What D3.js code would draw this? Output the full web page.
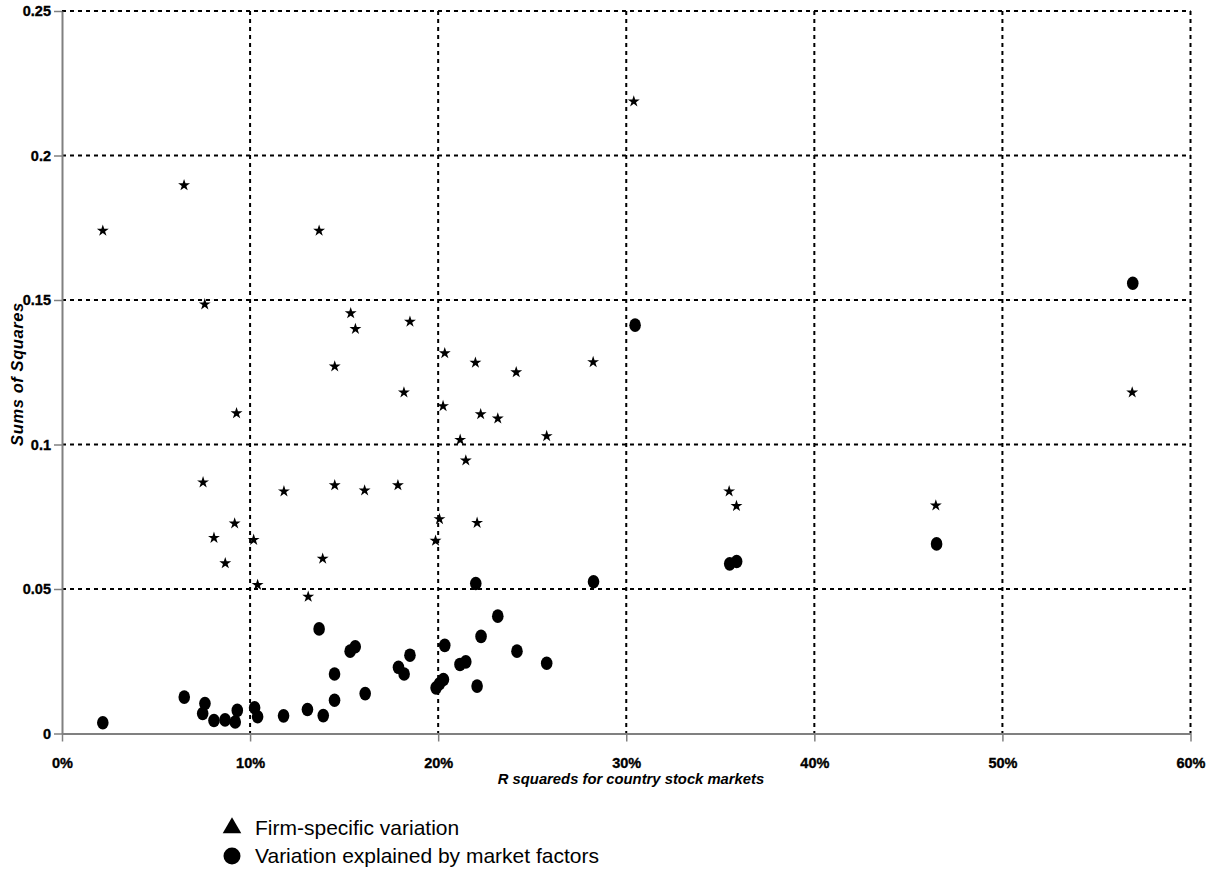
<!DOCTYPE html>
<html>
<head>
<meta charset="utf-8">
<script src="https://cdn.jsdelivr.net/npm/d3@7"></script>
<style>
  html, body { margin: 0; padding: 0; background: #fff; }
  svg { display: block; }
  .tick text { font-family: "Liberation Sans", Arial, sans-serif; font-weight: bold; font-size: 14.5px; fill: #000; stroke: #000; stroke-width: 0.35px; }
</style>
</head>
<body>
<svg id="chart" width="1211" height="875"></svg>
<script>
// ---- Data ----
const firmX = [0.0217,0.0649,0.1367,0.304,0.0759,0.1535,0.156,0.185,0.145,0.1818,
               0.2035,0.2198,0.2415,0.2824,0.0928,0.2026,0.2226,0.2317,0.2577,0.2117,
               0.2147,0.075,0.118,0.145,0.1609,0.1786,0.2007,0.2207,0.0918,0.0808,
               0.1019,0.1986,0.1386,0.0868,0.104,0.1309,0.3547,0.3586,0.4646,0.569];
const firmY = [0.174,0.1897,0.174,0.2187,0.1485,0.1454,0.140,0.1425,0.127,0.118,
               0.1316,0.1283,0.125,0.1285,0.1108,0.1133,0.1105,0.109,0.1029,0.1016,
               0.0945,0.0869,0.0838,0.0859,0.0841,0.0859,0.0742,0.0729,0.0727,0.0677,
               0.067,0.0667,0.0605,0.0589,0.0514,0.0473,0.0838,0.0787,0.0789,0.118];
const marketX = [0.0217,0.065,0.076,0.0748,0.0808,0.0867,0.0932,0.0921,0.1024,0.104,
                 0.1178,0.1305,0.1389,0.1449,0.1449,0.1612,0.1532,0.1559,0.1367,0.185,
                 0.1789,0.1819,0.2035,0.2228,0.2419,0.2577,0.2116,0.2147,0.2028,0.1989,
                 0.2007,0.2207,0.220,0.2826,0.2317,0.3047,0.355,0.3587,0.465,0.5693];
const marketY = [0.0037,0.0126,0.0104,0.0069,0.0045,0.0047,0.008,0.004,0.0089,0.0058,
                 0.0061,0.0083,0.0062,0.0115,0.0206,0.0138,0.0285,0.030,0.0362,0.0271,
                 0.0229,0.0206,0.0305,0.0336,0.0285,0.0243,0.0239,0.0248,0.0187,0.0158,
                 0.0172,0.0164,0.0519,0.0525,0.0406,0.1413,0.0587,0.0595,0.0656,0.1558];
const xTickValues = [0,0.1,0.2,0.3,0.4,0.5,0.6];
const xTickLabels = ["0%","10%","20%","30%","40%","50%","60%"];
const yTickValues = [0,0.05,0.1,0.15,0.2,0.25];
const yTickLabels = ["0","0.05","0.1","0.15","0.2","0.25"];
const legendLabels = ["Firm-specific variation","Variation explained by market factors"];
const xTitle = "R squareds for country stock markets";
const yTitle = "Sums of Squares";

// ---- Layout ----
const svg = d3.select("#chart");
const pLeft = 62, pRight = 1190.5, pTop = 11, pBottom = 733.5;
const x = d3.scaleLinear().domain([0, 0.6]).range([pLeft, pRight]);
const y = d3.scaleLinear().domain([0, 0.25]).range([pBottom, pTop]);

// grid
const grid = svg.append("g").attr("stroke", "#000").attr("stroke-width", 2).attr("stroke-dasharray", "4,4");
grid.selectAll("line.h").data(yTickValues.filter(d => d > 0)).join("line").attr("class", "h")
  .attr("x1", pLeft).attr("x2", pRight).attr("y1", d => y(d)).attr("y2", d => y(d));
grid.selectAll("line.v").data(xTickValues.filter(d => d > 0)).join("line").attr("class", "v")
  .attr("y1", pTop).attr("y2", pBottom).attr("x1", d => x(d)).attr("x2", d => x(d));

// axes
const yAxis = svg.append("g").attr("transform", `translate(${pLeft},0)`)
  .call(d3.axisLeft(y).tickValues(yTickValues).tickFormat((d, i) => yTickLabels[i]).tickSize(8).tickPadding(3).tickSizeOuter(0));
const xAxis = svg.append("g").attr("transform", `translate(0,${pBottom})`)
  .call(d3.axisBottom(x).tickValues(xTickValues).tickFormat((d, i) => xTickLabels[i]).tickSize(8).tickPadding(16).tickSizeOuter(0));
[yAxis, xAxis].forEach(a => {
  a.select(".domain").attr("stroke", "#808080").attr("stroke-width", 2);
  a.selectAll(".tick line").attr("stroke", "#808080").attr("stroke-width", 1.5);
});

// axis titles
svg.append("text").attr("transform", `translate(23,374) rotate(-90)`)
  .attr("text-anchor", "middle")
  .style("font-family", "'Liberation Sans', Arial, sans-serif").style("font-weight", "bold")
  .style("font-style", "italic").style("font-size", "16.5px").style("letter-spacing", "0.6px").text(yTitle);
svg.append("text").attr("x", 631).attr("y", 784).attr("text-anchor", "middle")
  .style("font-family", "'Liberation Sans', Arial, sans-serif").style("font-weight", "bold")
  .style("font-style", "italic").style("font-size", "14.8px").text(xTitle);

// stars (firm-specific)
const starPath = d3.symbol().type(d3.symbolStar).size(44)();
svg.append("g").selectAll("path").data(firmX.map((v, i) => [v, firmY[i]])).join("path")
  .attr("d", starPath).attr("fill", "#000")
  .attr("transform", d => `translate(${x(d[0])},${y(d[1])})`);

// circles (market factors)
svg.append("g").selectAll("ellipse").data(marketX.map((v, i) => [v, marketY[i]])).join("ellipse")
  .attr("cx", d => x(d[0])).attr("cy", d => y(d[1])).attr("rx", 5.8).attr("ry", 6.8).attr("fill", "#000");

// legend
const lg = svg.append("g");
lg.append("path").attr("d", d3.symbol().type(d3.symbolTriangle).size(150)())
  .attr("transform", "translate(232,828)").attr("fill", "#000");
lg.append("circle").attr("cx", 232).attr("cy", 856).attr("r", 8.5).attr("fill", "#000");
lg.selectAll("text").data(legendLabels).join("text")
  .attr("x", 255).attr("y", (d, i) => 835 + i * 28)
  .style("font-family", "'Liberation Sans', Arial, sans-serif").style("font-size", "21px")
  .text(d => d);
</script>
</body>
</html>
